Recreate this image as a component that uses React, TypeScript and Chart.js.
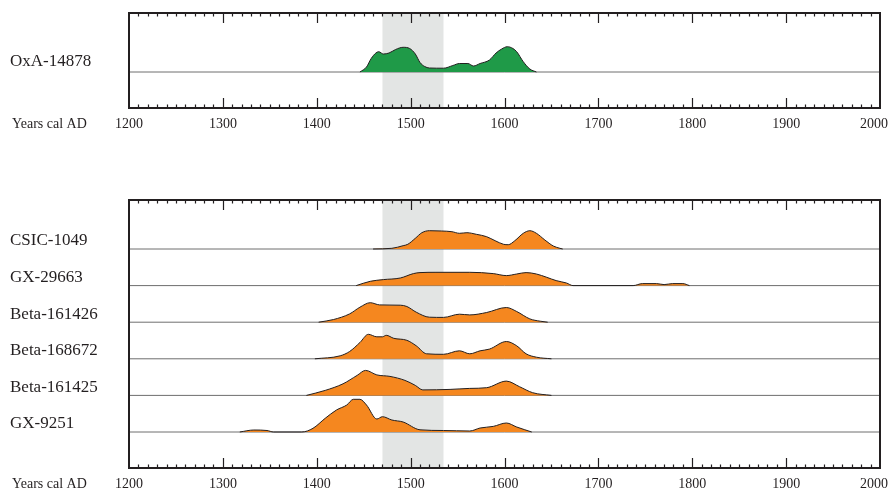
import React, { useEffect, useRef } from 'react';
import Chart from 'chart.js/auto';

// ---------- data ----------
const tickYears = [1200, 1300, 1400, 1500, 1600, 1700, 1800, 1900, 2000];
const axisTitle = 'Years cal AD';
const bandStart = 1470;
const bandEnd = 1535;

const topLabel = 'OxA-14878';
const oxaYears = [1446, 1453, 1458, 1463, 1466, 1471, 1477, 1484, 1492, 1499, 1505, 1510, 1515, 1520, 1535, 1545, 1552, 1561, 1567, 1574, 1584, 1591, 1597, 1603, 1609, 1613, 1620, 1627, 1634];
const oxaDensity = [0, 5, 13.5, 19, 20.3, 18, 19, 22.5, 24.7, 23.5, 18, 9.5, 5.5, 4, 3.8, 6.5, 8.5, 8.5, 6, 8.5, 12, 19, 23, 25.3, 23.5, 20.3, 10.3, 3, 0];

const bottomLabels = ['CSIC-1049', 'GX-29663', 'Beta-161426', 'Beta-168672', 'Beta-161425', 'GX-9251'];

const csicYears = [1460, 1480, 1492, 1497, 1505, 1512, 1520, 1533, 1544, 1552, 1560, 1570, 1581, 1590, 1599, 1604, 1611, 1620, 1627, 1634, 1643, 1652, 1659, 1662];
const csicDensity = [0, 0.7, 3.3, 4.7, 10.7, 16.3, 18.3, 18, 17.3, 15.7, 16.3, 14.7, 12.3, 8.3, 4.7, 4.3, 8.3, 15.7, 18.3, 15.7, 9, 3, 0.7, 0];

const gx29663Years = [1442, 1457, 1471, 1489, 1503, 1510, 1527, 1563, 1588, 1602, 1613, 1623, 1634, 1645, 1655, 1666, 1673, 1737, 1747, 1762, 1770, 1779, 1790, 1797];
const gx29663Density = [0, 4.3, 6, 7.6, 12, 13, 13.3, 13.3, 12, 10, 11.6, 13, 11.6, 8.3, 5, 2.6, 0, 0, 2, 2, 1, 2, 2, 0];

const b161426Years = [1402, 1418, 1435, 1446, 1457, 1467, 1489, 1496, 1506, 1520, 1535, 1552, 1563, 1581, 1602, 1613, 1627, 1638, 1646];
const b161426Density = [0, 2.7, 8.3, 15, 19.5, 17.3, 17, 15.7, 10, 5, 4.8, 8, 7.3, 9.7, 14.7, 10.7, 3.3, 1, 0];

const b168672Years = [1398, 1425, 1435, 1446, 1455, 1464, 1470, 1474, 1482, 1496, 1506, 1517, 1535, 1552, 1563, 1574, 1584, 1602, 1613, 1623, 1634, 1650];
const b168672Density = [0, 3, 7.3, 16.3, 24.5, 22, 22, 23.5, 20.5, 18.5, 13, 5, 4.5, 8, 5, 8, 9.7, 17.3, 13, 5, 1.6, 0];

const b161425Years = [1389, 1409, 1428, 1443, 1452, 1464, 1478, 1494, 1505, 1513, 1542, 1563, 1581, 1602, 1616, 1630, 1650];
const b161425Density = [0, 5, 11.6, 20, 25, 20.5, 19, 15, 10, 5.5, 6, 7, 7.7, 14.3, 8.7, 2.7, 0];

const gx9251Years = [1318, 1333, 1347, 1354, 1384, 1396, 1409, 1421, 1432, 1439, 1446, 1453, 1464, 1470, 1480, 1492, 1510, 1535, 1563, 1574, 1588, 1602, 1613, 1629];
const gx9251Density = [0, 2, 1.5, 0, 0, 3.7, 13.7, 22, 27, 32.7, 32.7, 27, 13, 15.3, 12, 10, 2.2, 1.5, 1, 4, 5.6, 9, 5, 0];

const bottomYears = [csicYears, gx29663Years, b161426Years, b168672Years, b161425Years, gx9251Years];
const bottomDensity = [csicDensity, gx29663Density, b161426Density, b168672Density, b161425Density, gx9251Density];

// ---------- style ----------
const W = 891;
const ROW_GAP = 36.6;
const INK = '#231f20';
const GREEN = '#1f9a48';
const ORANGE = '#f5871f';
const BAND = '#e3e5e4';
const BASELINE = '#6e6e6e';
const SERIF = '"Liberation Serif", "Times New Roman", serif';

type RowLabel = { text: string; base: number };

function decorPlugin(rows: RowLabel[], labelDy: number) {
  return {
    id: 'decor',
    beforeDatasetsDraw(chart: any) {
      const { ctx, chartArea, scales } = chart;
      const x = scales.x;
      const x0 = x.getPixelForValue(bandStart);
      const x1 = x.getPixelForValue(bandEnd);
      ctx.save();
      ctx.fillStyle = BAND;
      ctx.fillRect(x0, chartArea.top, x1 - x0, chartArea.bottom - chartArea.top);
      ctx.restore();
    },
    afterDatasetsDraw(chart: any) {
      const { ctx, chartArea, scales } = chart;
      const { left, right, top, bottom } = chartArea;
      const x = scales.x;
      const y = scales.y;
      ctx.save();
      // ticks
      ctx.strokeStyle = INK;
      ctx.lineWidth = 1.2;
      ctx.beginPath();
      for (let v = x.min + 10; v < x.max; v += 10) {
        const px = Math.round(x.getPixelForValue(v)) + 0.5;
        const len = v % 100 === 0 ? 10 : 3.5;
        ctx.moveTo(px, top);
        ctx.lineTo(px, top + len);
        ctx.moveTo(px, bottom);
        ctx.lineTo(px, bottom - len);
      }
      ctx.stroke();
      // frame
      ctx.lineWidth = 2;
      ctx.strokeRect(left, top, right - left, bottom - top);
      // tick labels
      ctx.fillStyle = INK;
      ctx.font = `14px ${SERIF}`;
      ctx.textAlign = 'center';
      ctx.textBaseline = 'middle';
      const ly = bottom + 16;
      tickYears.forEach((yr) => {
        const txt = String(yr);
        const half = ctx.measureText(txt).width / 2;
        const px = Math.min(x.getPixelForValue(yr), W - 3 - half);
        ctx.fillText(txt, px, ly);
      });
      ctx.textAlign = 'left';
      ctx.fillText(axisTitle, 12, ly);
      // row labels
      ctx.font = `17px ${SERIF}`;
      rows.forEach((r) => {
        ctx.fillText(r.text, 10, y.getPixelForValue(r.base) - labelDy);
      });
      ctx.restore();
    },
  };
}

function densityDataset(years: number[], dens: number[], base: number, color: string) {
  return {
    data: years.map((yr, i) => ({ x: yr, y: base + dens[i] })),
    borderColor: INK,
    borderWidth: 1,
    backgroundColor: color,
    fill: { value: base },
    pointRadius: 0,
    cubicInterpolationMode: 'monotone' as const,
  };
}

function baselineDataset(base: number) {
  return {
    data: [
      { x: tickYears[0], y: base },
      { x: tickYears[tickYears.length - 1], y: base },
    ],
    borderColor: BASELINE,
    borderWidth: 1,
    fill: false,
    pointRadius: 0,
  };
}

function baseOptions(yMin: number, yMax: number, padding: any) {
  return {
    responsive: false,
    maintainAspectRatio: false,
    animation: false as const,
    events: [] as any[],
    layout: { padding },
    plugins: { legend: { display: false }, tooltip: { enabled: false } },
    scales: {
      x: { type: 'linear' as const, min: tickYears[0], max: tickYears[tickYears.length - 1], display: false },
      y: { type: 'linear' as const, min: yMin, max: yMax, display: false },
    },
  };
}

export default function App() {
  const topRef = useRef<HTMLCanvasElement>(null);
  const botRef = useRef<HTMLCanvasElement>(null);

  useEffect(() => {
    const topChart = new Chart(topRef.current!, {
      type: 'line',
      data: {
        datasets: [densityDataset(oxaYears, oxaDensity, 0, GREEN), baselineDataset(0)] as any,
      },
      options: baseOptions(-36, 59, { left: 129, right: 11, top: 13, bottom: 32 }) as any,
      plugins: [decorPlugin([{ text: topLabel, base: 0 }], 10)],
    });

    const n = bottomLabels.length;
    const bases = bottomLabels.map((_, i) => (n - 1 - i) * ROW_GAP);
    const dens = bottomLabels.map((_, i) => densityDataset(bottomYears[i], bottomDensity[i], bases[i], ORANGE));
    const lines = bases.map((b) => baselineDataset(b));
    const botChart = new Chart(botRef.current!, {
      type: 'line',
      data: { datasets: [...dens, ...lines] as any },
      options: baseOptions(-36, 232, { left: 129, right: 11, top: 20, bottom: 22 }) as any,
      plugins: [decorPlugin(bottomLabels.map((t, i) => ({ text: t, base: bases[i] })), 8)],
    });

    return () => {
      topChart.destroy();
      botChart.destroy();
    };
  }, []);

  return (
    <div style={{ position: 'fixed', left: 0, top: 0, width: W, height: 490, background: '#fff' }}>
      <canvas ref={topRef} width={W} height={140} style={{ position: 'absolute', left: 0, top: 0, width: W, height: 140 }} />
      <canvas ref={botRef} width={W} height={310} style={{ position: 'absolute', left: 0, top: 180, width: W, height: 310 }} />
    </div>
  );
}
